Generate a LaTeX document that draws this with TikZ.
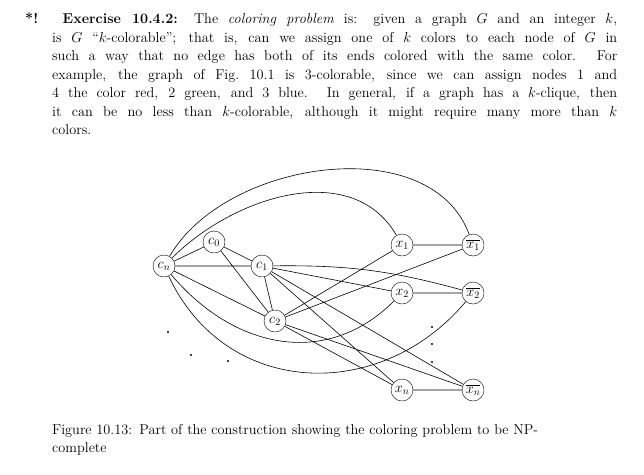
\documentclass[tikz,border=0pt]{standalone}
\begin{document}
\begin{tikzpicture}[x=1pt,y=-1pt,
  v/.style={draw,circle,minimum size=22pt,inner sep=0pt,font=\fontsize{14}{14}\selectfont},
  e/.style={line width=0.6pt},
  dotm/.style={circle,fill,inner sep=0pt,minimum size=2.2pt}]
\useasboundingbox (0,0) rectangle (644,474);
\node[anchor=north west,text width=565pt,align=justify,inner sep=0pt,font=\fontsize{14.3}{18.5}\selectfont] (para) at (52,13)
{\hspace*{-27pt}\textbf{*! Exercise 10.4.2:} The \emph{coloring problem} is: given a graph $G$ and an integer $k$,\linebreak
is $G$ ``$k$-colorable''; that is, can we assign one of $k$ colors to each node of $G$ in\linebreak
such a way that no edge has both of its ends colored with the same color. For\linebreak
example, the graph of Fig.~10.1 is 3-colorable, since we can assign nodes 1 and\linebreak
4 the color red, 2 green, and 3 blue. In general, if a graph has a $k$-clique, then\linebreak
it can be no less than $k$-colorable, although it might require many more than $k$\linebreak
colors.};
\node[v] (cn) at (164,266) {$c_n$};
\node[v] (c0) at (214,242) {$c_0$};
\node[v] (c1) at (262,266) {$c_1$};
\node[v] (c2) at (275,321) {$c_2$};
\node[v] (x1) at (402,245) {$x_1$};
\node[v] (nx1) at (473,245) {$\overline{x_1}$};
\node[v] (x2) at (402,293) {$x_2$};
\node[v] (nx2) at (473,293) {$\overline{x_2}$};
\node[v] (xn) at (402,390) {$x_n$};
\node[v] (nxn) at (473,390) {$\overline{x_n}$};
\draw[e] (cn)--(c0) (cn)--(c1) (c0)--(c1) (c0)--(c2) (cn)--(c2) (c1)--(c2)
 (c2)--(x1) (c2)--(nx1) (c1)--(x2) (c1)--(xn) (c1)--(nxn) (c2)--(xn) (c2)--(nxn)
 (x1)--(nx1) (x2)--(nx2) (xn)--(nxn);
\draw[e] (c1) to[bend left=8] (nx2);
\draw[e] (cn) to[out=60,in=110,looseness=0.95] (nx1);
\draw[e] (cn) to[out=45,in=120] (x1);
\draw[e] (cn) to[out=-50,in=-135,looseness=1.1] (x2);
\draw[e] (cn) to[out=-65,in=-130,looseness=1.15] (nx2);
\foreach \p [count=\i] in {(168,332),(191,355),(228,361),(432,327),(432,344),(432,362)}
  \node[dotm] (d\i) at \p {};
\node[anchor=north west,text width=570pt,align=left,inner sep=0pt,font=\fontsize{14.3}{18.5}\selectfont] (cap) at (52,424)
{Figure 10.13: Part of the construction showing the coloring problem to be NP-\\complete};
\end{tikzpicture}
\end{document}
